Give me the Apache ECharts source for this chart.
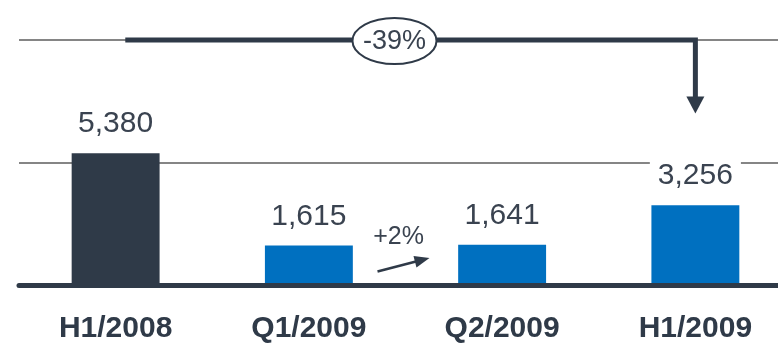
<!DOCTYPE html>
<html>
<head>
<meta charset="utf-8">
<script src="https://cdn.jsdelivr.net/npm/echarts@6/dist/echarts.min.js"></script>
<style>
  html, body { margin: 0; padding: 0; background: #ffffff; overflow: hidden; }
  /* plot runs past the right edge of the page */
  #chart { width: 792px; height: 346px; }
</style>
</head>
<body>
<div id="chart"></div>
<script>
// Revenue by period
const categories = ['H1/2008', 'Q1/2009', 'Q2/2009', 'H1/2009'];
const revenue = [5380, 1615, 1641, 3256];
const barColors = ['#2f3a48', '#0070c0', '#0070c0', '#0070c0'];
const yTicks = [0, 5000, 10000];
const halfYearChange = '-39%';
const quarterChange = '+2%';

const DARK = '#2f3a48';
const TEXT = '#3a4350';
const FONT = '"Liberation Sans", Arial, sans-serif';

const chart = echarts.init(document.getElementById('chart'), null, { renderer: 'canvas' });

chart.setOption({
  animation: false,
  backgroundColor: '#ffffff',
  grid: { left: 19, right: 0, top: 40, bottom: 61, containLabel: false },
  xAxis: {
    type: 'category',
    data: categories,
    z: 3,
    axisLine: { show: true, lineStyle: { color: DARK, width: 5 } },
    axisTick: { show: false },
    axisLabel: {
      margin: 29,
      color: DARK,
      fontFamily: FONT,
      fontWeight: 'bold',
      fontSize: 30
    }
  },
  yAxis: {
    type: 'value',
    min: yTicks[0],
    max: yTicks[yTicks.length - 1],
    interval: yTicks[1] - yTicks[0],
    axisLine: { show: false },
    axisTick: { show: false },
    axisLabel: { show: false },
    splitLine: { show: true, showMinLine: false, lineStyle: { color: '#858585', width: 2 } }
  },
  series: [{
    type: 'bar',
    barWidth: '45.5%',
    data: revenue.map((v, i) => ({ value: v, itemStyle: { color: barColors[i] } })),
    label: {
      show: true,
      position: 'top',
      distance: 14,
      color: TEXT,
      fontFamily: FONT,
      fontSize: 30,
      backgroundColor: '#ffffff',
      padding: [4, 8, 0, 8],
      formatter: p => p.value.toLocaleString('en-US')
    }
  }]
});

// Change annotations, placed from the axis scales
function px(idx) { return chart.convertToPixel({ xAxisIndex: 0 }, idx); }
function py(val) { return chart.convertToPixel({ yAxisIndex: 0 }, val); }

const band = px(1) - px(0);
const topY = py(yTicks[yTicks.length - 1]);
const startX = px(0) + band * 0.05;
const endX = px(3);
const tipY = py(7000);
const ovalX = (px(1) + px(2)) / 2 - band * 0.057;
const ovalY = topY + 1;

// Small up-sloping arrow between the two quarters
const midQ = (px(1) + px(2)) / 2;
const a0 = [midQ - 28, py(550)];
const a1 = [midQ + 24, py(1100)];
const ang = Math.atan2(a1[1] - a0[1], a1[0] - a0[0]);
function headPts(tip, angle, len, half) {
  const bx = tip[0] - len * Math.cos(angle), by = tip[1] - len * Math.sin(angle);
  const nx = -Math.sin(angle) * half, ny = Math.cos(angle) * half;
  return [[tip[0], tip[1]], [bx + nx, by + ny], [bx - nx, by - ny]];
}
const headLen = 15;
const shaftEnd = [a1[0] - (headLen - 2) * Math.cos(ang), a1[1] - (headLen - 2) * Math.sin(ang)];

chart.setOption({
  graphic: [
    { type: 'polyline', z: 10, shape: { points: [[startX, topY], [endX, topY], [endX, tipY - 14]] },
      style: { stroke: DARK, lineWidth: 5, fill: null, lineJoin: 'miter' } },
    { type: 'polygon', z: 10, shape: { points: [[endX, tipY], [endX - 9, tipY - 17], [endX + 9, tipY - 17]] },
      style: { fill: DARK } },
    { type: 'ellipse', z: 11, shape: { cx: ovalX, cy: ovalY, rx: 42, ry: 23 },
      style: { fill: '#ffffff', stroke: DARK, lineWidth: 2 } },
    { type: 'text', z: 12, x: ovalX, y: ovalY + 1,
      style: { text: halfYearChange, fill: TEXT, font: '27px ' + FONT, align: 'center', verticalAlign: 'middle' } },
    { type: 'text', z: 12, x: midQ - 7, y: py(1950),
      style: { text: quarterChange, fill: TEXT, font: '25px ' + FONT, align: 'center', verticalAlign: 'middle' } },
    { type: 'line', z: 10, shape: { x1: a0[0], y1: a0[1], x2: shaftEnd[0], y2: shaftEnd[1] },
      style: { stroke: DARK, lineWidth: 2.5 } },
    { type: 'polygon', z: 10, shape: { points: headPts(a1, ang, headLen, 6) },
      style: { fill: DARK } }
  ]
});
</script>
</body>
</html>
